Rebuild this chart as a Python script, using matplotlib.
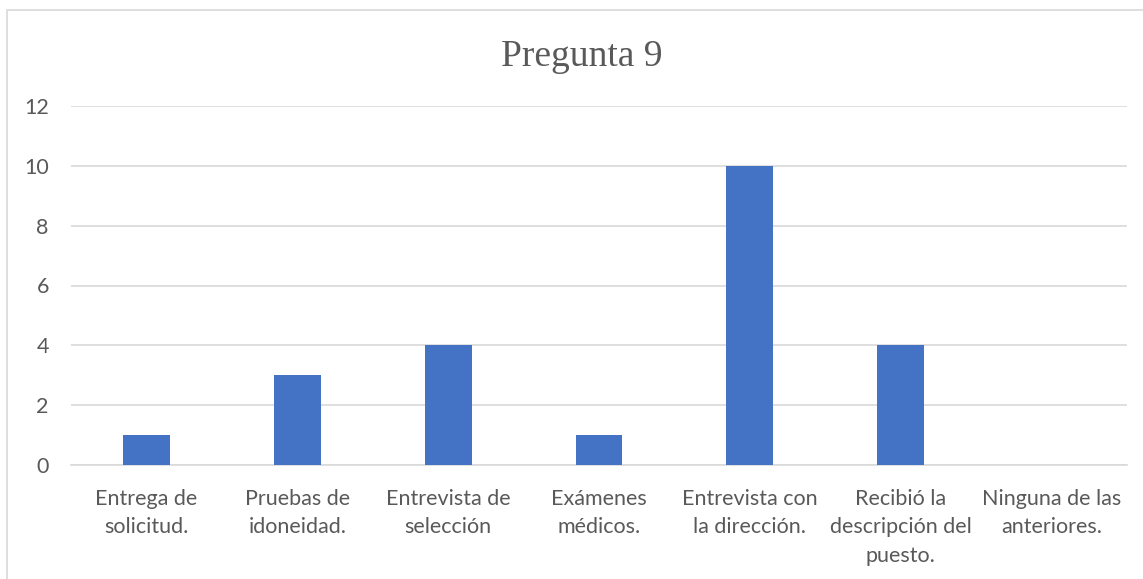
import numpy as np
import matplotlib.pyplot as plt
from matplotlib.patches import Rectangle

categorias = [
    "Entrega de\nsolicitud.",
    "Pruebas de\nidoneidad.",
    "Entrevista de\nselección",
    "Exámenes\nmédicos.",
    "Entrevista con\nla dirección.",
    "Recibió la\ndescripción del\npuesto.",
    "Ninguna de las\nanteriores.",
]
valores = [1, 3, 4, 1, 10, 4, 0]
ticks_y = [0, 2, 4, 6, 8, 10, 12]

fig = plt.figure(figsize=(11.43, 5.79), dpi=100)
ax = fig.add_axes([71 / 1143, 1 - 465 / 579, (1127 - 71) / 1143, (465 - 106) / 579])

x = np.arange(len(categorias))
ax.bar(x, valores, width=0.31, color="#4472C4", zorder=3)

ax.set_xlim(-0.5, len(categorias) - 0.5)
ax.set_ylim(0, 12)
ax.set_yticks(ticks_y)
ax.set_xticks(x)
ax.set_xticklabels(categorias, fontsize=15.5, color="#595959", family="Lato",
                   linespacing=1.55)
ax.tick_params(axis="y", labelsize=15.5, labelcolor="#595959", length=0, pad=16)
ax.tick_params(axis="x", length=0, pad=17)
for lbl in ax.get_yticklabels():
    lbl.set_family("Lato")

ax.grid(axis="y", color="#d9d9d9", linewidth=1.2, zorder=0)
for side in ["top", "right", "left"]:
    ax.spines[side].set_visible(False)
ax.spines["bottom"].set_color("#d9d9d9")
ax.spines["bottom"].set_linewidth(1.2)

fig.text(582 / 1143, 1 - 57 / 579, "Pregunta 9", ha="center", va="center",
         fontsize=27, family="Liberation Serif", color="#595959")

# marco del gráfico
fig.patches.append(Rectangle((7 / 1143, -0.05), 1.2, 1 - 10 / 579 + 0.05,
                             transform=fig.transFigure, fill=False,
                             edgecolor="#d9d9d9", linewidth=1.2))

fig.savefig("out.png", dpi=100)
